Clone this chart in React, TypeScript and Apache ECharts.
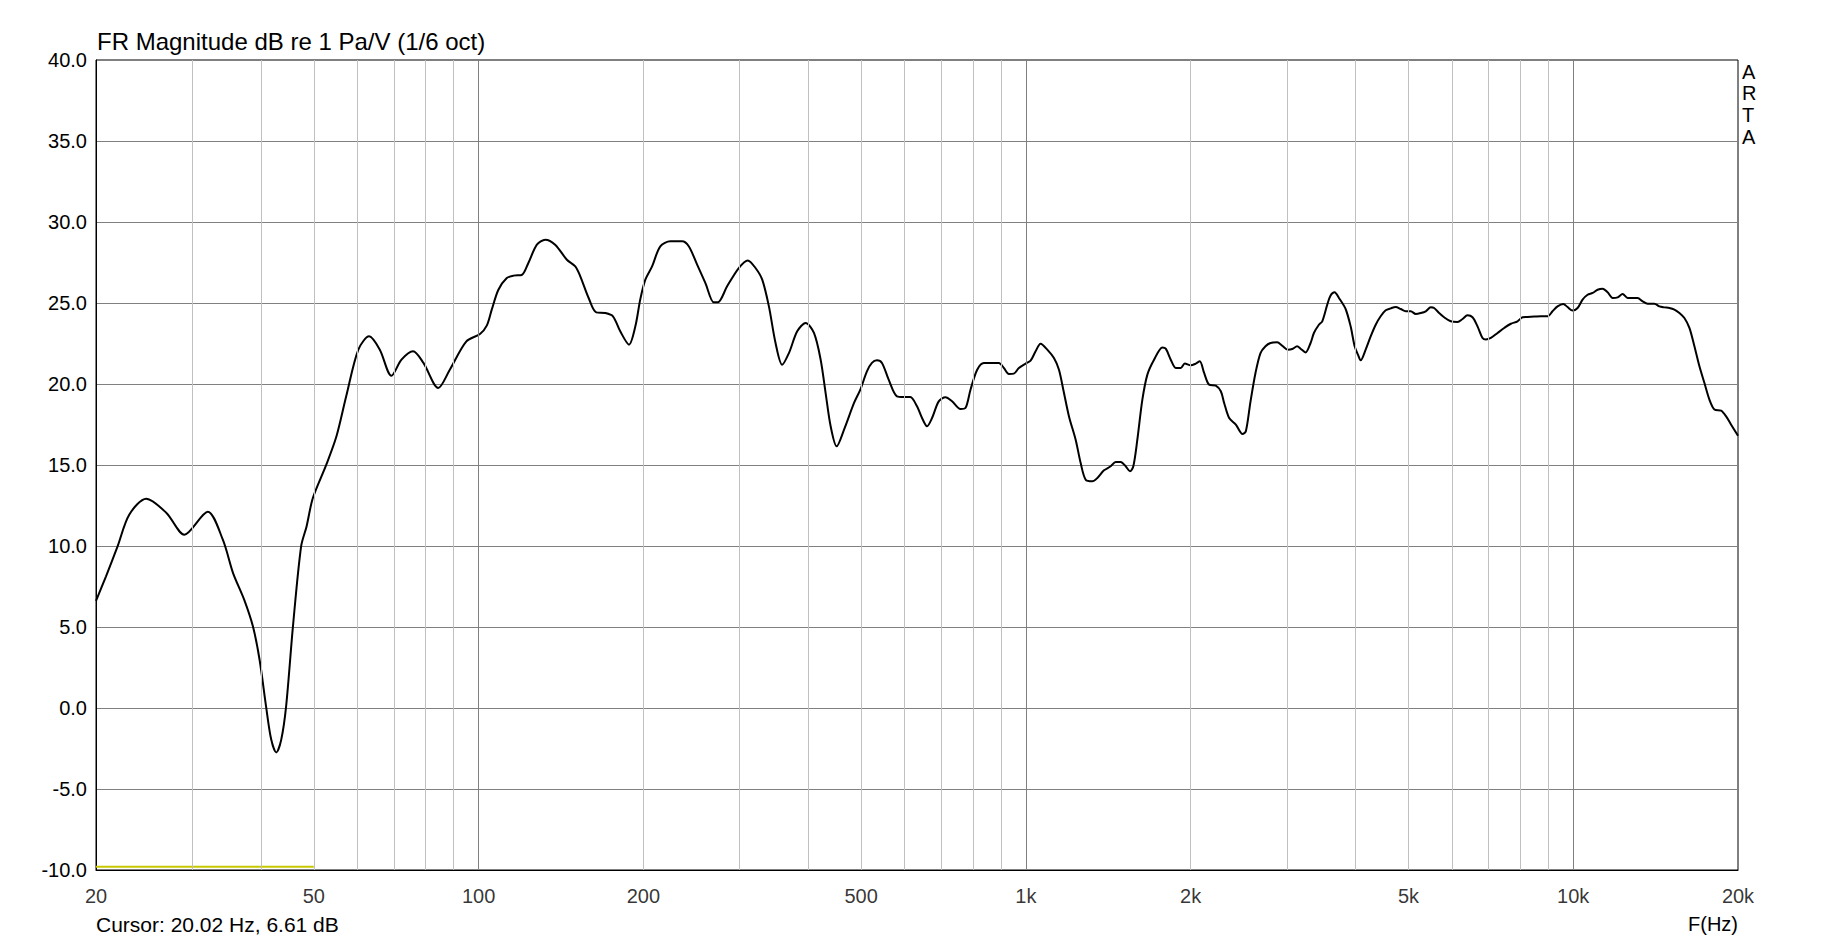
import React, { useEffect, useRef } from "react";
import * as echarts from "echarts";

// ---- data ----
const freqHz = [
  20, 20.86, 21.9, 23.0, 24.7, 26.9, 29.0, 32.0, 34.1, 35.6, 37.3, 38.7, 39.8, 40.9, 41.8, 42.7, 43.6, 44.5,
  45.8, 47.4, 48.5, 49.8, 52.7, 55.0, 57.3, 60.3, 63.1, 66.0, 69.3, 72.3, 75.9, 79.3, 84.4, 88.6, 95.0,
  100.6, 103.5, 105.7, 108.7, 112.6, 115.8, 119.9, 123.3, 127.8, 132.4, 138.0, 145.0, 150.2, 153.4, 158.9,
  164.1, 170.4, 176.0, 181.5, 188.3, 193.4, 197.4, 201.7, 207.5, 214.8, 224.1, 235.4, 242.1, 250.8, 259.7,
  269.0, 273.6, 284.5, 298.8, 310.4, 320.6, 329.8, 339.2, 348.8, 358.7, 369.0, 382.1, 395.8, 410.0, 421.7,
  430.6, 439.8, 451.1, 465.3, 485.3, 498.3, 512.3, 523.2, 534.4, 545.8, 561.4, 581.4, 597.9, 615.0, 632.5,
  646.0, 659.7, 673.8, 693.0, 712.8, 733.1, 759.3, 775.4, 792.1, 814.7, 837.9, 867.8, 892.5, 911.5, 930.9,
  950.7, 970.9, 998.6, 1019.9, 1041.6, 1063.7, 1094.1, 1125.2, 1149.2, 1170.4, 1198.7, 1232.8, 1259.1,
  1285.9, 1322.5, 1350.7, 1388.8, 1428.4, 1458.8, 1489.8, 1521.5, 1549.5, 1571.4, 1598.1, 1632.2, 1667.0,
  1714.5, 1775.8, 1801.0, 1839.3, 1878.4, 1918.4, 1951.0, 2000.9, 2043.5, 2078.2, 2116.5, 2161.6, 2223.2,
  2270.5, 2302.6, 2351.6, 2418.6, 2487.5, 2522.7, 2572, 2627, 2683, 2740, 2798, 2878, 2939, 3010, 3066,
  3131, 3175, 3243, 3312, 3359, 3430, 3479, 3553, 3603, 3664, 3732, 3838, 3920, 3987, 4043, 4089, 4176,
  4265, 4356, 4448, 4543, 4640, 4738, 4839, 4942, 5048, 5155, 5265, 5377, 5492, 5569, 5688, 5809, 5974,
  6145, 6276, 6409, 6546, 6685, 6827, 6924, 7071, 7273, 7480, 7693, 7912, 8081, 8253, 8488, 8730, 8979,
  9165, 9361, 9587, 9764, 9972, 10184, 10401, 10623, 10849, 11080, 11316, 11556, 11802, 12054, 12310,
  12572, 12840, 13113, 13392, 13677, 14067, 14367, 14672, 14985, 15304, 15630, 15962, 16302, 16649, 17004,
  17366, 17735, 18113, 18629, 19026, 19431, 20000,
];

const levelDb = [
  6.61, 8.13, 9.98, 11.93, 12.92, 12.04, 10.7, 12.12, 10.39, 8.33, 6.69, 5.04, 2.98, 0.1, -1.95, -2.74, -1.95, 0.1,
  5.04, 9.98, 11.21, 12.96, 15.02, 16.77, 19.24, 22.12, 22.94, 22.12, 20.51, 21.5, 22.02, 21.3, 19.75, 20.88, 22.63,
  23.09, 23.6, 24.59, 25.82, 26.54, 26.69, 26.73, 27.47, 28.6, 28.91, 28.6, 27.67, 27.26, 26.65, 25.31,
  24.42, 24.38, 24.18, 23.25, 22.43, 23.56, 25.21, 26.44, 27.26, 28.5, 28.81, 28.81, 28.5, 27.37, 26.23,
  25.04, 25.04, 26.03, 27.16, 27.63, 27.16, 26.44, 24.79, 22.53, 21.19, 21.91, 23.25, 23.77, 23.15, 21.5,
  19.44, 17.39, 16.15, 17.18, 18.83, 19.65, 20.78, 21.3, 21.46, 21.3, 20.27, 19.24, 19.2, 19.2, 18.62,
  17.9, 17.39, 17.9, 18.93, 19.18, 18.93, 18.46, 18.52, 19.65, 20.88, 21.3, 21.3, 21.3, 20.99, 20.62,
  20.64, 20.99, 21.26, 21.44, 22.02, 22.49, 22.12, 21.6, 20.88, 19.65, 18.0, 16.56, 15.12,
  14.09, 13.99, 14.2, 14.67, 14.92, 15.19, 15.19, 14.92, 14.61, 14.92, 16.56, 19.03, 20.58,
  21.5, 22.26, 22.18, 21.5, 20.99, 20.99, 21.26, 21.15, 21.26, 21.4, 20.68, 19.96, 19.9,
  19.55, 18.83, 17.9, 17.49, 16.91, 17.08, 18.9, 20.68, 21.91, 22.33, 22.53, 22.57, 22.37, 22.12, 22.16,
  22.33, 22.18, 21.95, 22.53, 23.15, 23.66, 23.87, 24.9, 25.47, 25.66, 25.31, 24.63, 23.56, 22.33, 21.81, 21.46, 22.12,
  22.94, 23.66, 24.18, 24.55, 24.67, 24.75, 24.63, 24.49, 24.49, 24.32, 24.38, 24.49, 24.73, 24.69, 24.38, 24.12, 23.87,
  23.83, 24.01, 24.24, 24.12, 23.56, 22.84, 22.74, 22.84, 23.15, 23.46, 23.72, 23.87, 24.12, 24.14, 24.16, 24.18, 24.18,
  24.49, 24.79, 24.94, 24.75, 24.53, 24.69, 25.21, 25.51, 25.62, 25.82, 25.88, 25.66, 25.31, 25.35, 25.56,
  25.31, 25.31, 25.31, 25.1, 24.96, 24.96, 24.79, 24.73, 24.69, 24.59, 24.38, 24.07, 23.46, 22.33, 21.09,
  20.06, 19.03, 18.42, 18.35, 18.0, 17.49, 16.81,
];

// yellow range marker at the bottom (20 Hz .. 50 Hz)
const markerFreqHz = [20, 50];
const markerDb = [-9.8, -9.8];

const xTickHz = [20, 50, 100, 200, 500, 1000, 2000, 5000, 10000, 20000];
const xTickLabels = ["20", "50", "100", "200", "500", "1k", "2k", "5k", "10k", "20k"];
const decadeLinesHz = [100, 1000, 10000];
const minorLinesHz = [
  30, 40, 50, 60, 70, 80, 90,
  200, 300, 400, 500, 600, 700, 800, 900,
  2000, 3000, 4000, 5000, 6000, 7000, 8000, 9000,
];

const yMin = -10;
const yMax = 40;
const yStep = 5;

const titleText = "FR Magnitude dB re 1 Pa/V (1/6 oct)";
const cursorText = "Cursor: 20.02 Hz, 6.61 dB";
const xAxisName = "F(Hz)";
const brandText = "A\nR\nT\nA";

const FONT = '"Liberation Sans", Arial, sans-serif';

export default function App() {
  const ref = useRef<HTMLDivElement | null>(null);

  useEffect(() => {
    if (!ref.current) return;
    const chart = echarts.init(ref.current, null, { renderer: "svg" });

    const curve = freqHz.map((f, i) => [f, levelDb[i]]);
    const marker = markerFreqHz.map((f, i) => [f, markerDb[i]]);

    const option: any = {
      animation: false,
      backgroundColor: "#ffffff",
      grid: {
        left: 96,
        right: 95,
        top: 60,
        bottom: 72,
        show: true,
        borderColor: "#000000",
        borderWidth: 1,
        backgroundColor: "transparent",
        containLabel: false,
        outerBoundsMode: "none",
      },
      xAxis: {
        type: "log",
        logBase: 10,
        min: 20,
        max: 20000,
        axisLine: { show: true, onZero: false, lineStyle: { color: "#000000", width: 1 } },
        axisTick: { show: false },
        axisLabel: { show: false },
        splitLine: { show: false },
        minorTick: { show: false },
        minorSplitLine: { show: false },
      },
      yAxis: {
        type: "value",
        min: yMin,
        max: yMax,
        interval: yStep,
        axisLine: { show: true, onZero: false, lineStyle: { color: "#000000", width: 1 } },
        axisTick: { show: false },
        axisLabel: {
          show: true,
          formatter: (v: number) => v.toFixed(1),
          color: "#000000",
          fontSize: 20,
          fontFamily: FONT,
          margin: 9,
          showMinLabel: true,
          showMaxLabel: true,
        },
        splitLine: {
          show: true,
          showMinLine: false,
          showMaxLine: false,
          lineStyle: { color: "#808080", width: 1 },
        },
      },
      series: [
        {
          type: "line",
          name: "gridlines",
          data: [],
          silent: true,
          z: 1,
          markLine: {
            silent: true,
            symbol: ["none", "none"],
            label: { show: false },
            emphasis: { disabled: true },
            lineStyle: { type: "solid", width: 1, color: "#c0c0c0" },
            data: [
              ...minorLinesHz.map((v) => ({ xAxis: v, lineStyle: { color: "#c0c0c0", width: 1, type: "solid" } })),
              ...decadeLinesHz.map((v) => ({ xAxis: v, lineStyle: { color: "#808080", width: 1, type: "solid" } })),
            ],
          },
        },
        {
          type: "line",
          name: "range",
          data: marker,
          symbol: "none",
          showSymbol: false,
          silent: true,
          z: 2,
          lineStyle: { color: "#c8c800", width: 2 },
        },
        {
          type: "line",
          name: "FR",
          data: curve,
          symbol: "none",
          showSymbol: false,
          smooth: 0.3,
          silent: true,
          z: 3,
          lineStyle: { color: "#000000", width: 2 },
        },
        {
          type: "scatter",
          name: "xlabels",
          data: xTickHz.map((f) => [f, yMin]),
          symbolSize: 2,
          silent: true,
          clip: false,
          z: 4,
          itemStyle: { color: "rgba(0,0,0,0)" },
          label: {
            show: true,
            position: [1, 27],
            align: "center",
            verticalAlign: "middle",
            formatter: (p: any) => xTickLabels[p.dataIndex],
            color: "#000000",
            fontSize: 20,
            fontFamily: FONT,
          },
        },
      ],
      graphic: [
        {
          type: "text",
          x: 97,
          y: 41,
          silent: true,
          style: { text: titleText, font: `24px ${FONT}`, fill: "#000000", align: "left", verticalAlign: "middle" },
        },
        {
          type: "text",
          x: 1742,
          y: 60.6,
          silent: true,
          style: {
            text: brandText,
            font: `20px ${FONT}`,
            fill: "#000000",
            align: "left",
            verticalAlign: "top",
            lineHeight: 21.8,
          },
        },
        {
          type: "text",
          x: 96,
          y: 924,
          silent: true,
          style: { text: cursorText, font: `21px ${FONT}`, fill: "#000000", align: "left", verticalAlign: "middle" },
        },
        {
          type: "text",
          x: 1738,
          y: 924,
          silent: true,
          style: { text: xAxisName, font: `20px ${FONT}`, fill: "#000000", align: "right", verticalAlign: "middle" },
        },
      ],
    };

    chart.setOption(option);
    return () => {
      chart.dispose();
    };
  }, []);

  return (
    <div
      ref={ref}
      style={{ position: "absolute", left: 0, top: 0, width: 1833, height: 942, background: "#ffffff" }}
    />
  );
}
